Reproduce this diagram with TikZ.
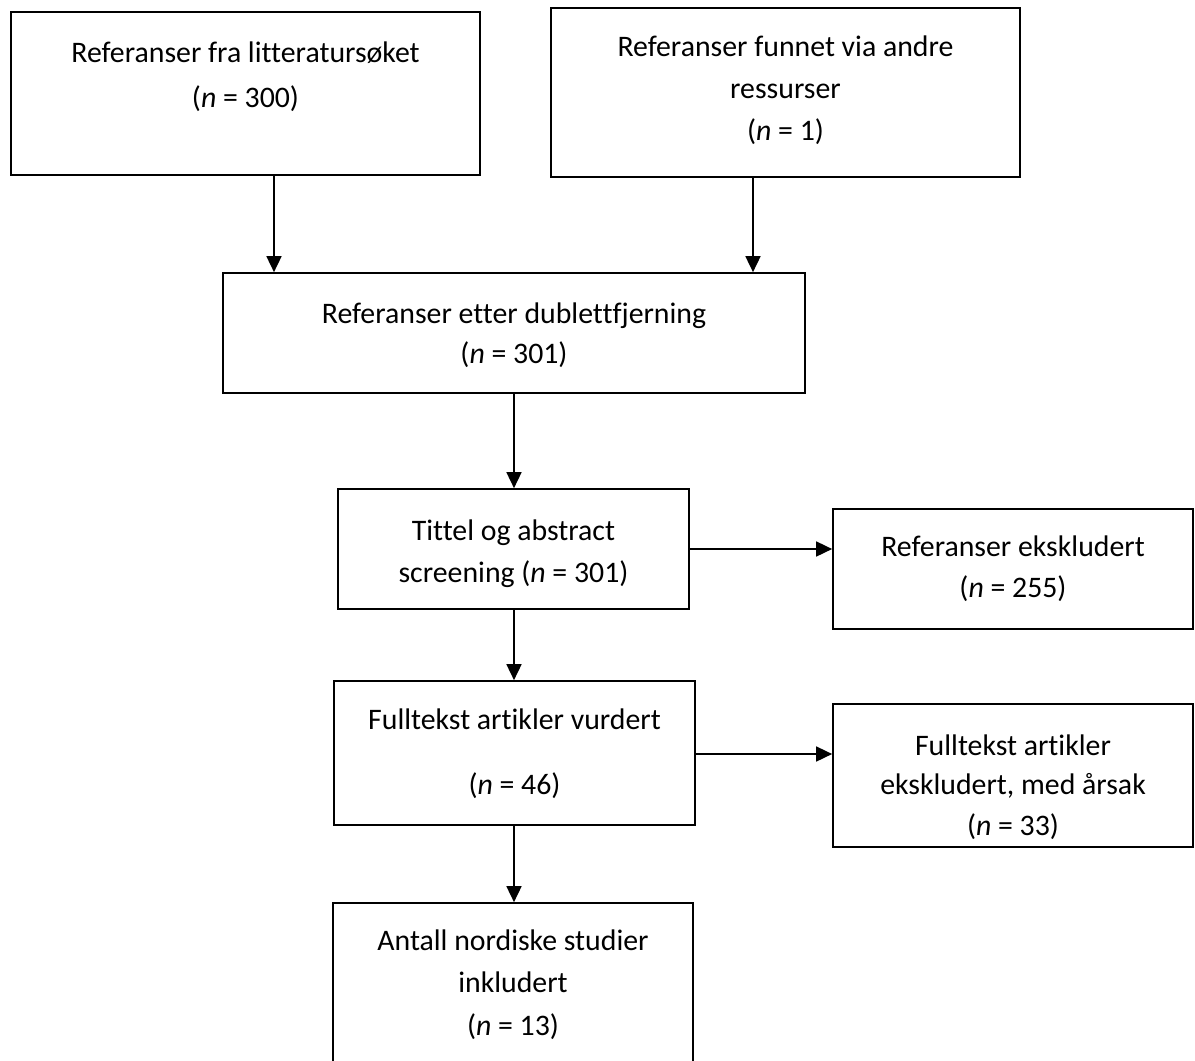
\documentclass[tikz,border=0pt]{standalone}
\usepackage{fontspec}
\setmainfont[Ligatures=NoCommon]{Carlito}
\usetikzlibrary{arrows.meta}
\begin{document}
\begin{tikzpicture}[x=1pt,y=-1pt,
  box/.style={draw, line width=1.7pt, inner sep=0pt},
  txt/.style={anchor=mid, inner sep=0pt, font=\fontsize{29.8}{35}\selectfont},
  arr/.style={line width=1.7pt, -{Triangle[length=16pt,width=15pt]}}]
\useasboundingbox (0,0) rectangle (1195,1061);
% boxes
\node[box, minimum width=469pt, minimum height=163pt] (A) at (245.5,93.5) {};
\node[box, minimum width=469pt, minimum height=169pt] (B) at (785.5,92.5) {};
\node[box, minimum width=582pt, minimum height=120pt] (C) at (514,333) {};
\node[box, minimum width=351pt, minimum height=120pt] (D) at (513.5,549) {};
\node[box, minimum width=360pt, minimum height=120pt] (E) at (1013,569) {};
\node[box, minimum width=361pt, minimum height=144pt] (F) at (514.5,753) {};
\node[box, minimum width=360pt, minimum height=143pt] (G) at (1013,775.5) {};
\node[box, minimum width=360pt, minimum height=177pt] (H) at (513,991.5) {};
% texts
\node[txt] (a1) at (245.5,60) {Referanser fra litteratursøket};
\node[txt] (a2) at (245.5,105) {(\textit{n} = 300)};
\node[txt] (b1) at (785.5,54) {Referanser funnet via andre};
\node[txt] (b2) at (785.5,96) {ressurser};
\node[txt] (b3) at (785.5,138) {(\textit{n} = 1)};
\node[txt] (c1) at (514,321) {Referanser etter dublettfjerning};
\node[txt] (c2) at (514,361) {(\textit{n} = 301)};
\node[txt] (d1) at (513.5,538) {Tittel og abstract};
\node[txt] (d2) at (513.5,580) {screening (\textit{n} = 301)};
\node[txt] (e1) at (1013,554) {Referanser ekskludert};
\node[txt] (e2) at (1013,595) {(\textit{n} = 255)};
\node[txt] (f1) at (514.5,727) {Fulltekst artikler vurdert};
\node[txt] (f2) at (514.5,792) {(\textit{n} = 46)};
\node[txt] (g1) at (1013,753) {Fulltekst artikler};
\node[txt] (g2) at (1013,792) {ekskludert, med årsak};
\node[txt] (g3) at (1013,833) {(\textit{n} = 33)};
\node[txt] (h1) at (513,948) {Antall nordiske studier};
\node[txt] (h2) at (513,990) {inkludert};
\node[txt] (h3) at (513,1033) {(\textit{n} = 13)};
% connectors
\draw[arr] (274,0 |- A.south) -- (274,0 |- C.north);
\draw[arr] (753,0 |- B.south) -- (753,0 |- C.north);
\draw[arr] (514,0 |- C.south) -- (514,0 |- D.north);
\draw[arr] (D.east |- 0,549) -- (E.west |- 0,549);
\draw[arr] (514,0 |- D.south) -- (514,0 |- F.north);
\draw[arr] (F.east |- 0,754) -- (G.west |- 0,754);
\draw[arr] (514,0 |- F.south) -- (514,0 |- H.north);
\end{tikzpicture}
\end{document}
